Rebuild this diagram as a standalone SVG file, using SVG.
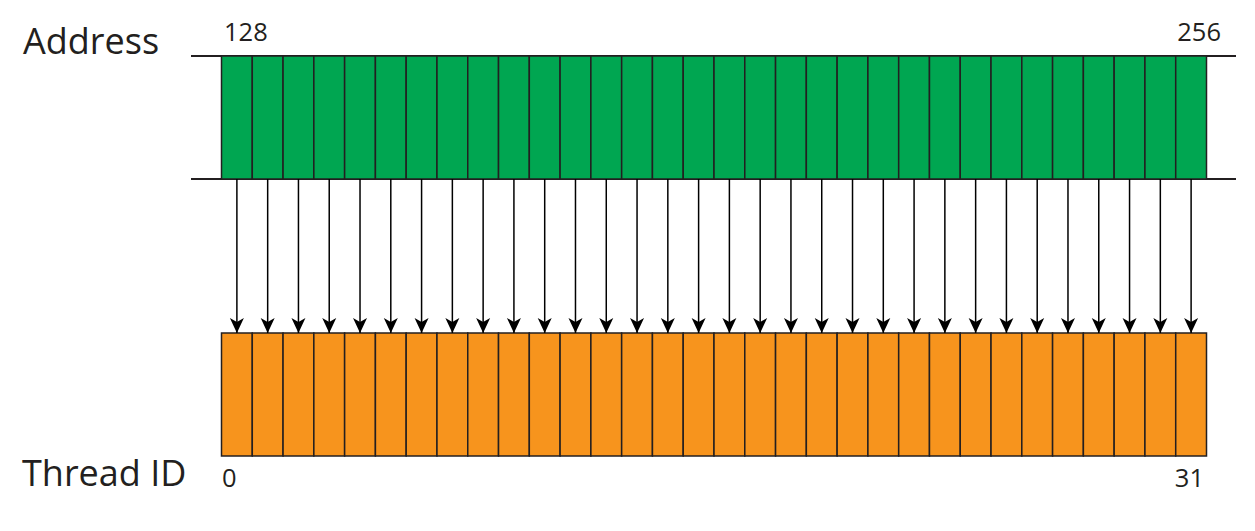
<svg xmlns="http://www.w3.org/2000/svg" width="1255" height="531" viewBox="0 0 1255 531">
<style>
.lbl{font-family:"Open Sans","Noto Sans",sans-serif;fill:#231f20}
.big{font-size:36px}
.num{font-size:25.5px}
.addr rect{fill:#00a651;stroke:#231f20;stroke-width:1.5}
.thr rect{fill:#f7941d;stroke:#231f20;stroke-width:1.5}
.rule{stroke:#231f20;stroke-width:2}
.conn line{stroke:#000;stroke-width:1.5;marker-end:url(#ah)}
</style>
<defs>
<marker id="ah" markerUnits="userSpaceOnUse" markerWidth="16" markerHeight="16" viewBox="0 -8 16 16" refX="15" refY="0" orient="auto">
<path d="M0,-7 L15,0 L0,7 L4,0 Z" fill="#000"/>
</marker>
</defs>
<rect width="1255" height="531" fill="#fff"/>
<g id="address-label"><text class="lbl big" x="23" y="54">Address</text></g>
<g id="thread-label"><text class="lbl big" x="22" y="486">Thread ID</text></g>
<g id="address-row" class="addr">
<line class="rule" x1="191" y1="56" x2="1236" y2="56"/>
<line class="rule" x1="191" y1="179" x2="1236" y2="179"/>
<rect x="221.5" y="56" width="30.78" height="123"/><rect x="252.28" y="56" width="30.78" height="123"/><rect x="283.06" y="56" width="30.78" height="123"/><rect x="313.84" y="56" width="30.78" height="123"/><rect x="344.63" y="56" width="30.78" height="123"/><rect x="375.41" y="56" width="30.78" height="123"/><rect x="406.19" y="56" width="30.78" height="123"/><rect x="436.97" y="56" width="30.78" height="123"/><rect x="467.75" y="56" width="30.78" height="123"/><rect x="498.53" y="56" width="30.78" height="123"/><rect x="529.31" y="56" width="30.78" height="123"/><rect x="560.09" y="56" width="30.78" height="123"/><rect x="590.88" y="56" width="30.78" height="123"/><rect x="621.66" y="56" width="30.78" height="123"/><rect x="652.44" y="56" width="30.78" height="123"/><rect x="683.22" y="56" width="30.78" height="123"/><rect x="714" y="56" width="30.78" height="123"/><rect x="744.78" y="56" width="30.78" height="123"/><rect x="775.56" y="56" width="30.78" height="123"/><rect x="806.34" y="56" width="30.78" height="123"/><rect x="837.13" y="56" width="30.78" height="123"/><rect x="867.91" y="56" width="30.78" height="123"/><rect x="898.69" y="56" width="30.78" height="123"/><rect x="929.47" y="56" width="30.78" height="123"/><rect x="960.25" y="56" width="30.78" height="123"/><rect x="991.03" y="56" width="30.78" height="123"/><rect x="1021.81" y="56" width="30.78" height="123"/><rect x="1052.59" y="56" width="30.78" height="123"/><rect x="1083.38" y="56" width="30.78" height="123"/><rect x="1114.16" y="56" width="30.78" height="123"/><rect x="1144.94" y="56" width="30.78" height="123"/><rect x="1175.72" y="56" width="30.78" height="123"/>
<text class="lbl num" x="224" y="41">128</text>
<text class="lbl num" x="1221" y="41" text-anchor="end">256</text>
</g>
<g id="thread-row" class="thr">
<rect x="221.5" y="333" width="30.78" height="123"/><rect x="252.28" y="333" width="30.78" height="123"/><rect x="283.06" y="333" width="30.78" height="123"/><rect x="313.84" y="333" width="30.78" height="123"/><rect x="344.63" y="333" width="30.78" height="123"/><rect x="375.41" y="333" width="30.78" height="123"/><rect x="406.19" y="333" width="30.78" height="123"/><rect x="436.97" y="333" width="30.78" height="123"/><rect x="467.75" y="333" width="30.78" height="123"/><rect x="498.53" y="333" width="30.78" height="123"/><rect x="529.31" y="333" width="30.78" height="123"/><rect x="560.09" y="333" width="30.78" height="123"/><rect x="590.88" y="333" width="30.78" height="123"/><rect x="621.66" y="333" width="30.78" height="123"/><rect x="652.44" y="333" width="30.78" height="123"/><rect x="683.22" y="333" width="30.78" height="123"/><rect x="714" y="333" width="30.78" height="123"/><rect x="744.78" y="333" width="30.78" height="123"/><rect x="775.56" y="333" width="30.78" height="123"/><rect x="806.34" y="333" width="30.78" height="123"/><rect x="837.13" y="333" width="30.78" height="123"/><rect x="867.91" y="333" width="30.78" height="123"/><rect x="898.69" y="333" width="30.78" height="123"/><rect x="929.47" y="333" width="30.78" height="123"/><rect x="960.25" y="333" width="30.78" height="123"/><rect x="991.03" y="333" width="30.78" height="123"/><rect x="1021.81" y="333" width="30.78" height="123"/><rect x="1052.59" y="333" width="30.78" height="123"/><rect x="1083.38" y="333" width="30.78" height="123"/><rect x="1114.16" y="333" width="30.78" height="123"/><rect x="1144.94" y="333" width="30.78" height="123"/><rect x="1175.72" y="333" width="30.78" height="123"/>
<text class="lbl num" x="222" y="487">0</text>
<text class="lbl num" x="1204" y="487" text-anchor="end">31</text>
</g>
<g id="connectors" class="conn">
<line x1="236.89" y1="179" x2="236.89" y2="333"/><line x1="267.67" y1="179" x2="267.67" y2="333"/><line x1="298.45" y1="179" x2="298.45" y2="333"/><line x1="329.23" y1="179" x2="329.23" y2="333"/><line x1="360.02" y1="179" x2="360.02" y2="333"/><line x1="390.8" y1="179" x2="390.8" y2="333"/><line x1="421.58" y1="179" x2="421.58" y2="333"/><line x1="452.36" y1="179" x2="452.36" y2="333"/><line x1="483.14" y1="179" x2="483.14" y2="333"/><line x1="513.92" y1="179" x2="513.92" y2="333"/><line x1="544.7" y1="179" x2="544.7" y2="333"/><line x1="575.48" y1="179" x2="575.48" y2="333"/><line x1="606.27" y1="179" x2="606.27" y2="333"/><line x1="637.05" y1="179" x2="637.05" y2="333"/><line x1="667.83" y1="179" x2="667.83" y2="333"/><line x1="698.61" y1="179" x2="698.61" y2="333"/><line x1="729.39" y1="179" x2="729.39" y2="333"/><line x1="760.17" y1="179" x2="760.17" y2="333"/><line x1="790.95" y1="179" x2="790.95" y2="333"/><line x1="821.73" y1="179" x2="821.73" y2="333"/><line x1="852.52" y1="179" x2="852.52" y2="333"/><line x1="883.3" y1="179" x2="883.3" y2="333"/><line x1="914.08" y1="179" x2="914.08" y2="333"/><line x1="944.86" y1="179" x2="944.86" y2="333"/><line x1="975.64" y1="179" x2="975.64" y2="333"/><line x1="1006.42" y1="179" x2="1006.42" y2="333"/><line x1="1037.2" y1="179" x2="1037.2" y2="333"/><line x1="1067.98" y1="179" x2="1067.98" y2="333"/><line x1="1098.77" y1="179" x2="1098.77" y2="333"/><line x1="1129.55" y1="179" x2="1129.55" y2="333"/><line x1="1160.33" y1="179" x2="1160.33" y2="333"/><line x1="1191.11" y1="179" x2="1191.11" y2="333"/>
</g>
</svg>
